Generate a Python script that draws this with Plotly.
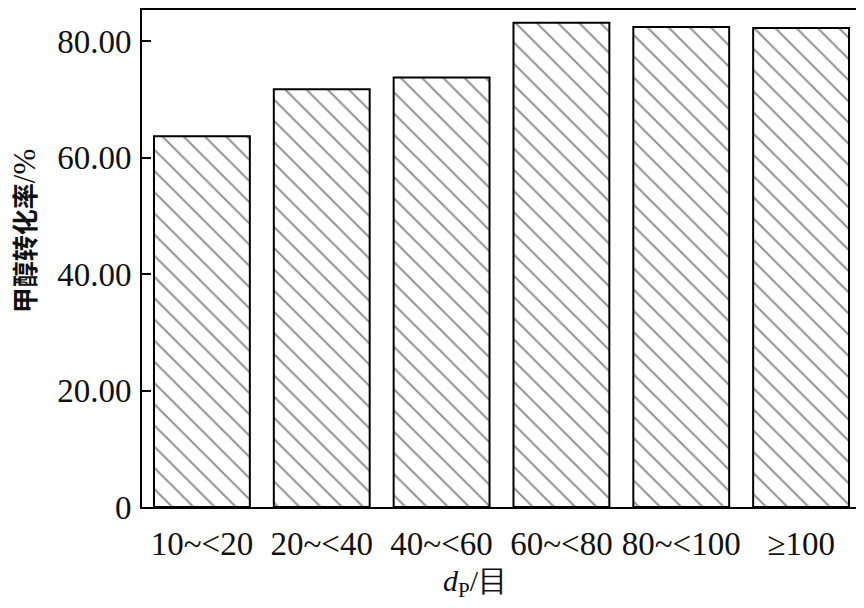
import plotly.graph_objects as go

categories = ["10~<20", "20~<40", "40~<60", "60~<80", "80~<100", "≥100"]
conversion = [63.7, 71.8, 73.8, 83.2, 82.5, 82.3]
y_ticks = [0, 20, 40, 60, 80]
y_tick_labels = ["0", "20.00", "40.00", "60.00", "80.00"]

serif = "Liberation Serif, Times New Roman, serif"

fig = go.Figure()
fig.add_trace(go.Bar(
    x=categories,
    y=conversion,
    width=0.8,
    marker=dict(
        color="white",
        line=dict(color="black", width=2),
        pattern=dict(shape="\\", fgcolor="#2a2a2a", bgcolor="white", size=15, solidity=0.14),
    ),
))

# page body has an 8px margin, so the figure is 8px smaller and margins shifted
fig.update_layout(
    width=856, height=600,
    margin=dict(l=134, r=3, t=2, b=101),
    paper_bgcolor="white", plot_bgcolor="white",
    showlegend=False,
    bargap=0.2,
    font=dict(family=serif, color="#111111"),
)
fig.update_xaxes(
    automargin=False,
    showline=True, linecolor="black", linewidth=2, mirror=True,
    ticks="", ticklabelstandoff=6,
    tickfont=dict(family=serif, size=33, color="#111111"),
    showgrid=False,
)
fig.update_yaxes(
    automargin=False,
    range=[0, 85.4],
    tickvals=y_ticks, ticktext=y_tick_labels,
    showline=True, linecolor="black", linewidth=2, mirror=True,
    ticks="inside", ticklen=9, tickwidth=2, tickcolor="black",
    ticklabelstandoff=2,
    tickfont=dict(family=serif, size=33, color="#111111"),
    showgrid=False, zeroline=False,
)

fig.add_annotation(
    text="甲醇转化率<span style='font-family:Liberation Serif;font-size:31px;font-weight:normal'>/%</span>",
    xref="paper", yref="paper",
    x=0, xshift=-119, y=0.555, textangle=-90,
    showarrow=False, xanchor="center", yanchor="middle",
    font=dict(family="Noto Sans CJK SC", size=26, color="#111111", weight="bold"),
)
fig.add_annotation(
    text="<i>d</i><sub>P</sub>/目", xref="paper", yref="paper",
    x=0.5, xshift=-26, y=0, yshift=-76,
    showarrow=False, xanchor="center", yanchor="middle",
    font=dict(family=serif, size=30, color="#111111"),
)

fig.write_html("out.html")
